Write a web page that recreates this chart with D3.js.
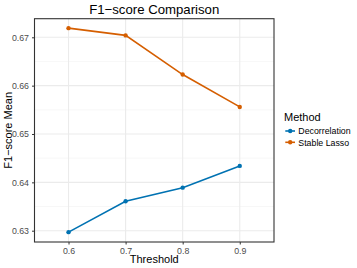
<!DOCTYPE html>
<html><head><meta charset="utf-8">
<script src="https://cdn.jsdelivr.net/npm/d3@7"></script>
<style>body{margin:0;background:#fff;} text{font-family:"Liberation Sans",Arial,sans-serif;}</style>
</head><body>
<script>
const thresholds = [0.6, 0.7, 0.8, 0.9];
const decorrelation = [0.6297, 0.6361, 0.6389, 0.6434];
const stableLasso = [0.6719, 0.6704, 0.6623, 0.6556];
const seriesNames = ["Decorrelation", "Stable Lasso"];
const colors = ["#0072B2", "#D55E00"];
const yTicks = [0.63, 0.64, 0.65, 0.66, 0.67];
const yMinor = [0.635, 0.645, 0.655, 0.665];

const W = 357, H = 268;
const m = {l: 34.5, r: 274, t: 18.7, b: 242};
const svg = d3.select("body").append("svg").attr("width", W).attr("height", H);
const x = d3.scaleLinear().domain([0.5404, 0.96]).range([m.l, m.r]);
const y = d3.scaleLinear().domain([0.62766, 0.67385]).range([m.b, m.t]);

const g = svg.append("g");
// grid
g.selectAll(".ymin").data(yMinor).enter().append("line")
  .attr("x1", m.l).attr("x2", m.r).attr("y1", d => y(d)).attr("y2", d => y(d))
  .attr("stroke", "#f2f2f2").attr("stroke-width", 0.6);
g.selectAll(".ymaj").data(yTicks).enter().append("line")
  .attr("x1", m.l).attr("x2", m.r).attr("y1", d => y(d)).attr("y2", d => y(d))
  .attr("stroke", "#ebebeb").attr("stroke-width", 1.1);
g.selectAll(".xmaj").data(thresholds).enter().append("line")
  .attr("y1", m.t).attr("y2", m.b).attr("x1", d => x(d)).attr("x2", d => x(d))
  .attr("stroke", "#ebebeb").attr("stroke-width", 1.1);

// axes
const xAxis = d3.axisBottom(x).tickValues(thresholds).tickFormat(d3.format(".1f")).tickSize(2.5).tickPadding(3);
const yAxis = d3.axisLeft(y).tickValues(yTicks).tickFormat(d3.format(".2f")).tickSize(2.5).tickPadding(3);
const gx = svg.append("g").attr("transform", `translate(0,${m.b})`).call(xAxis);
const gy = svg.append("g").attr("transform", `translate(${m.l},0)`).call(yAxis);
[gx, gy].forEach(a => {
  a.select(".domain").remove();
  a.selectAll(".tick line").attr("stroke", "#333");
  a.selectAll(".tick text").attr("fill", "#4d4d4d").style("font-size", "8.8px");
});

// panel border
svg.append("rect").attr("x", m.l).attr("y", m.t).attr("width", m.r - m.l).attr("height", m.b - m.t)
  .attr("fill", "none").attr("stroke", "#333").attr("stroke-width", 1.1);

// series
const data = [decorrelation, stableLasso];
const line = d3.line().x((d, i) => x(thresholds[i])).y(d => y(d));
data.forEach((vals, si) => {
  svg.append("path").datum(vals).attr("d", line).attr("fill", "none")
    .attr("stroke", colors[si]).attr("stroke-width", 1.6);
  svg.selectAll(".pt" + si).data(vals).enter().append("circle")
    .attr("cx", (d, i) => x(thresholds[i])).attr("cy", d => y(d)).attr("r", 2.2).attr("fill", colors[si]);
});

// titles
svg.append("text").attr("x", (m.l + m.r) / 2).attr("y", 13.5).attr("text-anchor", "middle")
  .style("font-size", "13.2px").attr("fill", "#000").text("F1\u2212score Comparison");
svg.append("text").attr("x", (m.l + m.r) / 2).attr("y", 263).attr("text-anchor", "middle")
  .style("font-size", "11px").attr("fill", "#000").text("Threshold");
svg.append("text").attr("transform", `translate(11.8,${(m.t + m.b) / 2}) rotate(-90)`).attr("text-anchor", "middle")
  .style("font-size", "11px").attr("fill", "#000").text("F1\u2212score Mean");

// legend
const lg = svg.append("g");
lg.append("text").attr("x", 284).attr("y", 121).style("font-size", "11px").attr("fill", "#000").text("Method");
seriesNames.forEach((nm, i) => {
  const cy = 131 + i * 11.3;
  lg.append("line").attr("x1", 285.3).attr("x2", 295).attr("y1", cy).attr("y2", cy)
    .attr("stroke", colors[i]).attr("stroke-width", 1.6);
  lg.append("circle").attr("cx", 290.2).attr("cy", cy).attr("r", 2.2).attr("fill", colors[i]);
  lg.append("text").attr("x", 298.3).attr("y", cy + 3.2).style("font-size", "8.8px").attr("fill", "#000").text(nm);
});
</script>
</body></html>
